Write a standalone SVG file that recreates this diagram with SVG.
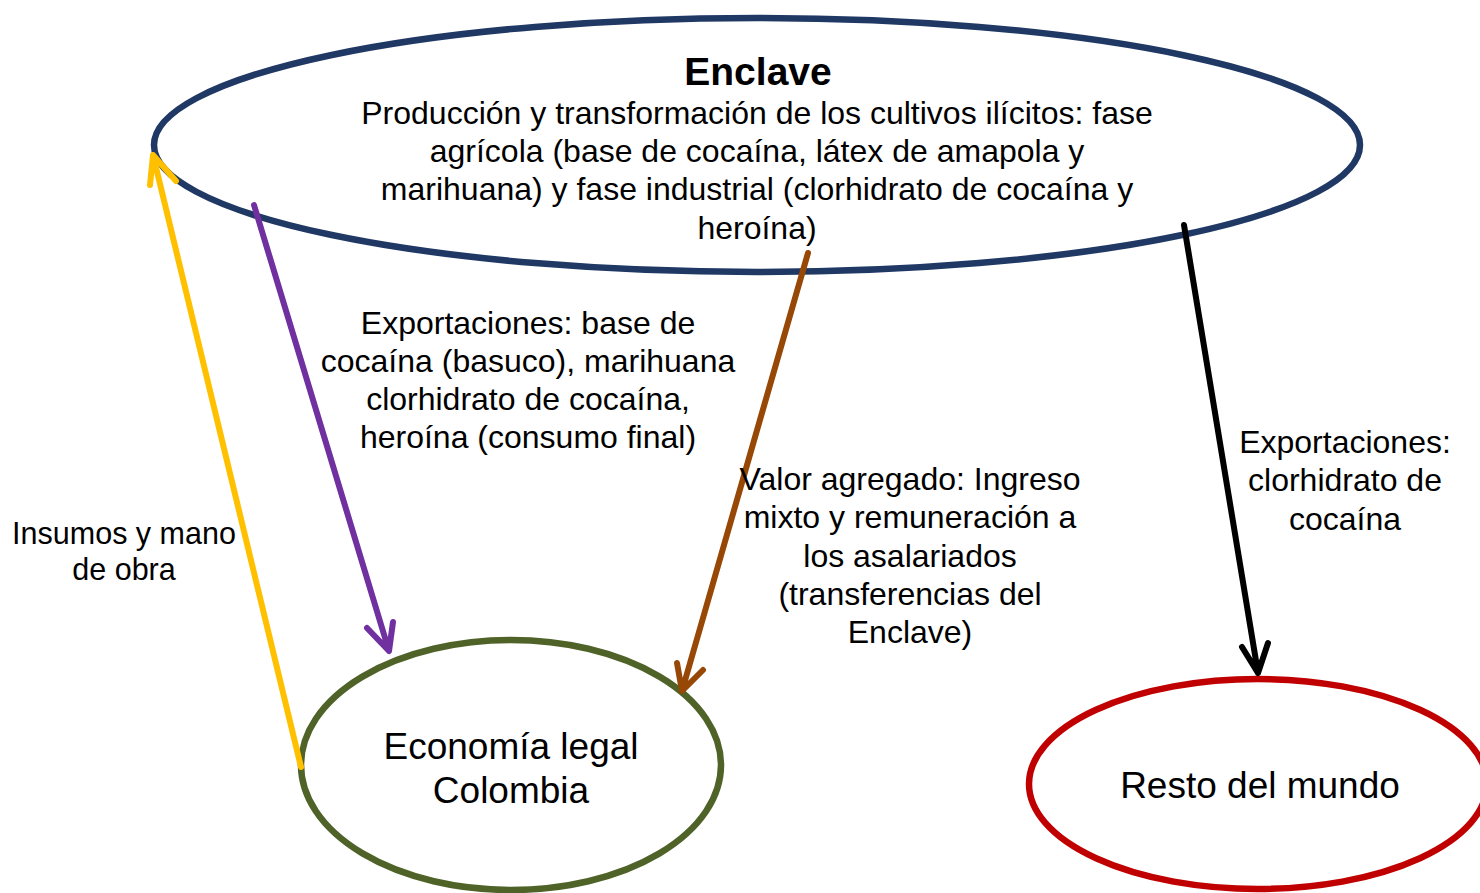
<svg xmlns="http://www.w3.org/2000/svg" width="1480" height="893" viewBox="0 0 1480 893">
<style>
text{font-family:"Liberation Sans",Arial,sans-serif;fill:#000;text-anchor:middle}
.b{font-size:32px}
.s{font-size:30.5px}
.n{font-size:37px}
.t{font-size:39px;font-weight:bold}
.ell{fill:none;stroke-width:6.5}
.c{fill:none;stroke-width:6;stroke-linecap:round;stroke-linejoin:round}
</style>
<rect width="1480" height="893" fill="#fff"/>
<g id="enclave">
<ellipse class="ell" cx="757" cy="145" rx="603" ry="127" stroke="#1F3864"/>
<text class="t" x="758" y="85">Enclave</text>
<text class="b" x="757" y="124">Producción y transformación de los cultivos ilícitos: fase</text>
<text class="b" x="757" y="162">agrícola (base de cocaína, látex de amapola y</text>
<text class="b" x="757" y="200">marihuana) y fase industrial (clorhidrato de cocaína y</text>
<text class="b" x="757" y="239">heroína)</text>
</g>
<g id="economia">
<ellipse class="ell" cx="511" cy="765" rx="210" ry="125" stroke="#4F6228"/>
<text class="n" x="511" y="759">Economía legal</text>
<text class="n" x="511" y="803">Colombia</text>
</g>
<g id="resto">
<ellipse class="ell" cx="1258" cy="784" rx="229" ry="105" stroke="#C00000"/>
<text class="n" x="1260" y="798">Resto del mundo</text>
</g>
<g id="connectors">
<g id="insumos">
<path class="c" stroke="#FFC000" d="M301 767 L153 155 M150 185 L153 155 L176 181"/>
</g>
<g id="export1">
<path class="c" stroke="#7030A0" d="M254 205 L389 651 M367 628 L389 651 L393 622"/>
</g>
<g id="valor">
<path class="c" stroke="#974806" d="M808 253 L682 691 M677 663 L682 691 L703 670"/>
</g>
<g id="export2">
<path class="c" stroke="#000" d="M1184 225 L1258 673 M1242 647 L1258 673 L1268 643"/>
</g>
</g>
<g id="labels">
<text class="s" x="124" y="544">Insumos y mano</text>
<text class="s" x="124" y="580">de obra</text>
<text class="b" x="528" y="334">Exportaciones: base de</text>
<text class="b" x="528" y="372">cocaína (basuco), marihuana</text>
<text class="b" x="528" y="410">clorhidrato de cocaína,</text>
<text class="b" x="528" y="448">heroína (consumo final)</text>
<text class="b" x="910" y="490">Valor agregado: Ingreso</text>
<text class="b" x="910" y="528">mixto y remuneración a</text>
<text class="b" x="910" y="567">los asalariados</text>
<text class="b" x="910" y="605">(transferencias del</text>
<text class="b" x="910" y="643">Enclave)</text>
<text class="b" x="1345" y="453">Exportaciones:</text>
<text class="b" x="1345" y="491">clorhidrato de</text>
<text class="b" x="1345" y="530">cocaína</text>
</g>
</svg>
